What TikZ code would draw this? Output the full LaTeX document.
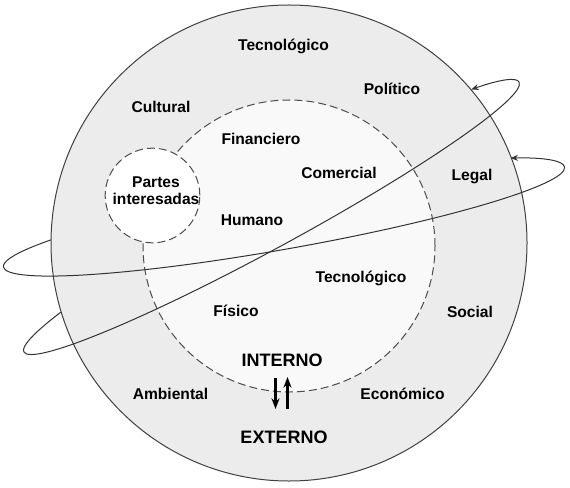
\documentclass[tikz,border=0pt]{standalone}
\usepackage{fontspec}
\setmainfont{Liberation Sans}
\usetikzlibrary{arrows,arrows.meta,positioning}
\tikzstyle{factor} = [font=\bfseries\fontsize{11.7}{13}\selectfont, text=black, inner sep=0pt]
\tikzstyle{region} = [font=\bfseries\fontsize{13.5}{16}\selectfont, text=black, inner sep=0pt]
\tikzstyle{orbit} = [draw=black!80, line width=0.75pt]
\tikzstyle{border} = [dash pattern=on 6pt off 3pt, draw=black!70, line width=0.75pt]
\tikzstyle{arrow} = [line width=1.6pt,-{Stealth[length=8pt,width=6pt]}]
\tikzstyle{orbitarrow} = [-{Stealth[length=5.5pt,width=4.5pt]}]

\begin{document}
\begin{tikzpicture}[x=7.5pt,y=7.5pt]
\useasboundingbox (0,0) rectangle (57,-48.8);
\coordinate (c1) at (27.15,-21.7);
\coordinate (c2) at (28.4,-21.7);
% back of the orbits
\begin{scope}[shift={(c1)},rotate=28.6]
\draw [orbit] (33:28.2 and 3) arc[start angle=33,end angle=180,x radius=28.2,y radius=3];
\end{scope}
\begin{scope}[shift={(c2)},rotate=10.1]
\draw [orbit] (35:28.5 and 3.2) arc[start angle=35,end angle=180,x radius=28.5,y radius=3.2];
\end{scope}
% circles
\node (ext) [circle, draw=black!75, fill=gray!15, line width=0.75pt, inner sep=0pt, minimum size=357pt] at (28.9,-24.3) {};
\node (int) [circle, border, fill=gray!5, inner sep=0pt, minimum size=219pt] at (28.9,-24.6) {};
\node (partes) [circle, border, fill=white, inner sep=0pt, minimum size=71pt] at (15.25,-19.55) {};
% front of the orbits
\begin{scope}[shift={(c1)},rotate=28.6]
\draw [orbit] (180:28.2 and 3) arc[start angle=180,end angle=360,x radius=28.2,y radius=3];
\draw [orbit,orbitarrow] (0:28.2 and 3) arc[start angle=0,end angle=33,x radius=28.2,y radius=3];
\end{scope}
\begin{scope}[shift={(c2)},rotate=10.1]
\draw [orbit] (180:28.5 and 3.2) arc[start angle=180,end angle=360,x radius=28.5,y radius=3.2];
\draw [orbit,orbitarrow] (0:28.5 and 3.2) arc[start angle=0,end angle=35,x radius=28.5,y radius=3.2];
\end{scope}
% labels
\node (pi) [factor, align=center] at (15.6,-19.05) {Partes\\interesadas};
\node (tec1) [factor] at (28.35,-4.6) {Tecnológico};
\node (pol) [factor] at (39.2,-8.85) {Político};
\node (cul) [factor] at (16.1,-10.65) {Cultural};
\node (fin) [factor] at (26.1,-13.9) {Financiero};
\node (com) [factor] at (33.9,-17.3) {Comercial};
\node (leg) [factor] at (47.2,-17.65) {Legal};
\node (hum) [factor] at (25.2,-22.0) {Humano};
\node (tec2) [factor] at (36.1,-27.8) {Tecnológico};
\node (fis) [factor] at (23.6,-31.05) {Físico};
\node (soc) [factor] at (47.0,-31.2) {Social};
\node (amb) [factor] at (17.05,-39.4) {Ambiental};
\node (eco) [factor] at (40.25,-39.4) {Económico};
\node (interno) [region] at (28.2,-36.0) {INTERNO};
\node (externo) [region] at (28.4,-43.7) {EXTERNO};
% exchange
\coordinate (d1) at (27.55,-37.8);
\coordinate (d2) at (27.55,-40.9);
\coordinate (u1) at (28.75,-40.9);
\coordinate (u2) at (28.75,-37.7);
\draw [arrow] (d1) -- (d2);
\draw [arrow] (u1) -- (u2);
\end{tikzpicture}
\end{document}
